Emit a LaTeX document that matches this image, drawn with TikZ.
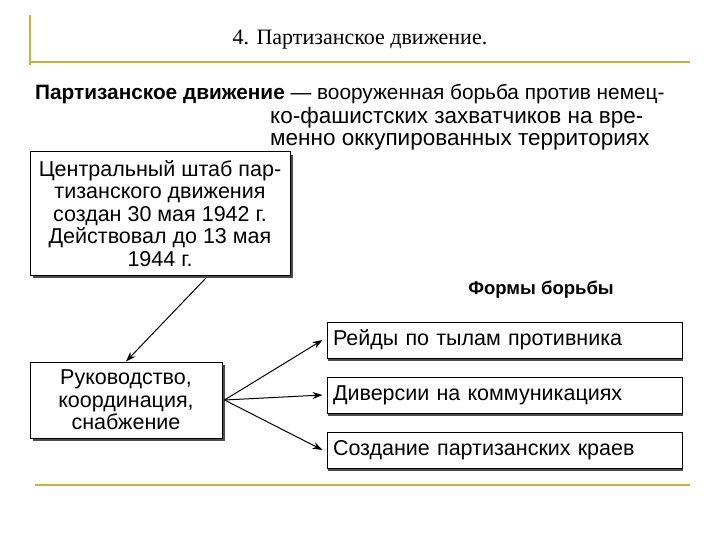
\documentclass[tikz,border=0pt]{standalone}
\usepackage{fontspec}
\setmainfont{Liberation Sans}
\newfontfamily\seriff{Liberation Serif}
\usetikzlibrary{arrows.meta}
\begin{document}
\begin{tikzpicture}[x=1pt,y=-1pt,
  gold/.style={draw={rgb,255:red,204;green,176;blue,60},line width=1.5pt},
  boxx/.style={draw=black,line width=1pt,inner sep=0pt,align=center,font=\fontsize{21.5}{22.5}\selectfont},
  shad/.style={fill=black!70},
  arr/.style={-{Stealth[length=10pt,width=7pt]},line width=1pt}]
\useasboundingbox (0,0) rectangle (720,540);
\draw[gold] (30,15) -- (30,65);
\draw[gold] (30,62) -- (690,62);
\draw[gold] (35,485) -- (690,485);
\node[font=\seriff\fontsize{22}{24}\selectfont] (title) at (360,40) {4. Партизанское движение.};
\node[anchor=north west,inner sep=0pt,font=\fontsize{20.8}{21}\selectfont] (d1) at (35,84) {\textbf{Партизанское движение} — вооруженная борьба против немец-};
\node[anchor=north west,inner sep=0pt,font=\fontsize{22.5}{21.5}\selectfont,align=left] (d2) at (270,107) {ко-фашистских захватчиков на вре-\\менно оккупированных территориях};
\fill[shad] (33,155) rectangle (293,278);
\node[boxx,fill=white,minimum width=260pt,minimum height=123pt] (b1) at (160,213.5) {Центральный штаб пар-\\тизанского движения\\создан 30 мая 1942 г.\\Действовал до 13 мая\\1944 г.};
\fill[shad] (33,365) rectangle (225,441);
\node[boxx,fill=white,minimum width=192pt,minimum height=76pt] (b2) at (126,400) {Руководство,\\координация,\\снабжение};
\node[font=\bfseries\fontsize{18.5}{20}\selectfont] (forms) at (541,290) {Формы борьбы};
\foreach \n/\y/\t in {r1/340/Рейды по тылам противника,r2/395/Диверсии на коммуникациях,r3/450/Создание партизанских краев}{
  \fill[shad] (328,\y-15) rectangle (683,\y+21);
  \node[boxx,fill=white,minimum width=355pt,minimum height=36pt,text width=343pt,align=left] (\n) at (504.5,\y) {\t};
}
\draw[arr] ([xshift=-85pt,yshift=-3pt]b1.south east) -- (b2.north);
\draw[arr] ([xshift=2pt]b2.east) -- ([xshift=-4pt]r1.west);
\draw[arr] ([xshift=2pt]b2.east) -- ([xshift=-4pt]r2.west);
\draw[arr] ([xshift=2pt]b2.east) -- ([xshift=-4pt]r3.west);
\end{tikzpicture}
\end{document}
